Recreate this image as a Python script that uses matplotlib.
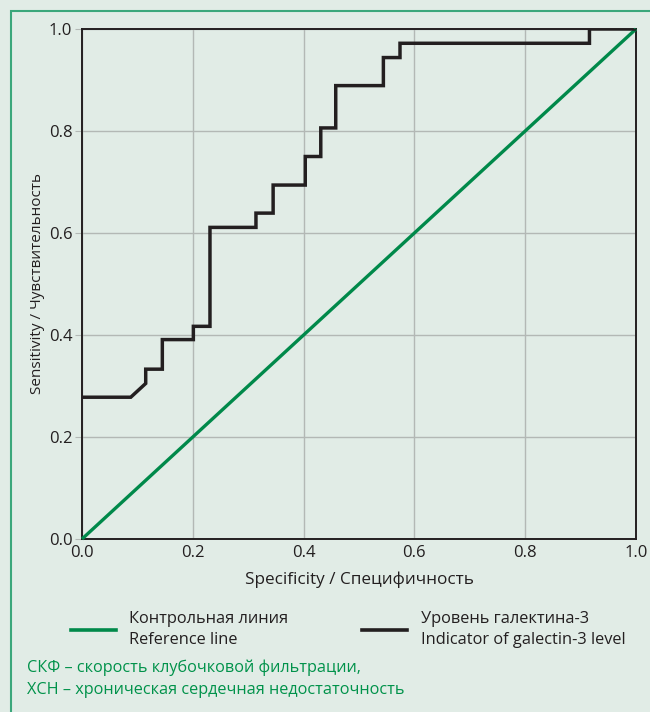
import matplotlib
matplotlib.use("Agg")
import matplotlib.pyplot as plt
from matplotlib.patches import Rectangle
from matplotlib.lines import Line2D

plt.rcParams['font.family'] = ['Open Sans', 'DejaVu Sans']

# Data
ref_x = [0.0, 1.0]
ref_y = [0.0, 1.0]
roc_spec = [0.0, 0.088, 0.115, 0.115, 0.145, 0.145, 0.201, 0.201, 0.231, 0.231,
            0.314, 0.314, 0.345, 0.345, 0.403, 0.403, 0.431, 0.431, 0.458, 0.458,
            0.544, 0.544, 0.574, 0.574, 0.916, 0.916, 1.0]
roc_sens = [0.278, 0.278, 0.305, 0.333, 0.333, 0.391, 0.391, 0.417, 0.417, 0.611,
            0.611, 0.639, 0.639, 0.694, 0.694, 0.750, 0.750, 0.806, 0.806, 0.889,
            0.889, 0.944, 0.944, 0.972, 0.972, 1.0, 1.0]
ticks = [0.0, 0.2, 0.4, 0.6, 0.8, 1.0]
tick_labels = ["0.0", "0.2", "0.4", "0.6", "0.8", "1.0"]
xlabel = "Specificity / Специфичность"
ylabel = "Sensitivity / Чувствительность"
legend_items = [("Контрольная линия\nReference line", "#00894a"),
                ("Уровень галектина-3\nIndicator of galectin-3 level", "#231f20")]
footnote = ["СКФ – скорость клубочковой фильтрации,",
            "ХСН – хроническая сердечная недостаточность"]

W, H = 650, 712
BG = "#e1ece6"
GREEN = "#00894a"
BORDER = "#3ba77b"
INK = "#231f20"

fig = plt.figure(figsize=(W / 100, H / 100), dpi=100, facecolor=BG)

def fx(px):
    return px / W

def fy(py):
    return 1 - py / H

# outer border
fig.patches.append(Rectangle((fx(10.5), fy(720)), 1.2, fy(10.5) - fy(720),
                             transform=fig.transFigure, fill=False,
                             edgecolor=BORDER, linewidth=1.5))

left, right, top, bottom = 82, 636, 29, 539
ax = fig.add_axes([fx(left), fy(bottom), fx(right - left), fy(top) - fy(bottom)])
ax.set_facecolor(BG)
ax.set_xlim(0, 1)
ax.set_ylim(0, 1)
ax.set_xticks(ticks)
ax.set_yticks(ticks)
ax.set_xticklabels(tick_labels)
ax.set_yticklabels(tick_labels)
ax.grid(True, color="#b3b8b5", linewidth=1.0)
ax.set_axisbelow(True)
for s in ax.spines.values():
    s.set_color(INK)
    s.set_linewidth(1.4)
ax.tick_params(axis='x', length=0, pad=4, labelsize=12, labelcolor=INK)
ax.tick_params(axis='y', length=5, color="#b3b8b5", pad=2, labelsize=12, labelcolor=INK)

ax.plot(ref_x, ref_y, color=GREEN, linewidth=2.4, solid_capstyle='butt', clip_on=False, zorder=3)
ax.plot(roc_spec, roc_sens, color=INK, linewidth=2.5, solid_joinstyle='miter', zorder=4)

fig.text(fx((left + right) / 2), fy(580), xlabel, ha='center', va='center',
         fontsize=12.3, color=INK)
fig.text(fx(38), fy((top + bottom) / 2), ylabel, ha='center', va='center',
         rotation=90, fontsize=11, color=INK)

# legend
for (label, color), (x0, x1, tx) in zip(legend_items, [(71, 116, 129), (362, 407, 421)]):
    fig.add_artist(Line2D([fx(x0), fx(x1)], [fy(629.5), fy(629.5)], color=color,
                          linewidth=2.6, transform=fig.transFigure))
    l1, l2 = label.split("\n")
    fig.text(fx(tx), fy(619), l1, ha='left', va='center', fontsize=11.8, color=INK)
    fig.text(fx(tx), fy(640), l2, ha='left', va='center', fontsize=11.8, color=INK)

fig.text(fx(27), fy(668), footnote[0], ha='left', va='center', fontsize=11.7, color="#00924a")
fig.text(fx(27), fy(690), footnote[1], ha='left', va='center', fontsize=11.7, color="#00924a")

fig.savefig("out.png", dpi=100, facecolor=BG)
